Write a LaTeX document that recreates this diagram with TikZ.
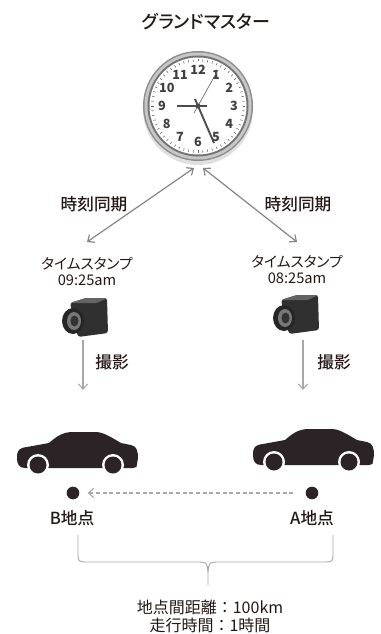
\documentclass[tikz,border=0pt]{standalone}
\usepackage{fontspec}
\setmainfont{Noto Sans CJK JP}[RawFeature=+palt]
\newfontfamily\medfont{Noto Sans CJK JP Medium}[RawFeature=+palt]
\newfontfamily\widefont{Noto Sans CJK JP}
\usepackage{tikz}
\usetikzlibrary{arrows.meta,positioning}
\usepackage{xcolor}
\definecolor{inkblack}{HTML}{231815}
\definecolor{linegray}{HTML}{858585}
\definecolor{lightgray}{HTML}{A8A8A8}
\definecolor{carblack}{HTML}{2B2325}
\definecolor{bezelgray}{HTML}{8E8E8E}
\definecolor{camgray}{HTML}{303030}
\tikzstyle{title} = [text=inkblack, font=\medfont\fontsize{13.5}{15}\selectfont]
\tikzstyle{label} = [text=inkblack, font=\medfont\fontsize{12.5}{14}\selectfont]
\tikzstyle{stamp} = [text=inkblack, align=center, inner sep=0pt, font=\fontsize{11}{12}\selectfont]
\tikzstyle{note} = [text=inkblack, align=center, inner sep=0pt, font=\widefont\fontsize{12}{13.5}\selectfont]
\tikzstyle{dot} = [circle, fill=carblack, minimum size=9.5pt, inner sep=0pt]
\tikzstyle{sync} = [line width=0.9pt, color=linegray, {Straight Barb[length=4pt,width=7pt]}-{Straight Barb[length=4pt,width=7pt]}]
\tikzstyle{shot} = [line width=0.8pt, color=lightgray, -{Straight Barb[length=4pt,width=7pt]}]
\tikzstyle{route} = [line width=0.8pt, color=lightgray, dash pattern=on 3pt off 2pt, -{Straight Barb[length=4pt,width=7pt]}]

\tikzset{
  car/.pic={
    \fill[carblack] (0,26) .. controls (0,18) and (2,16) .. (10,15) -- (32,11)
      .. controls (40,4) and (46,0) .. (56,0) -- (78,0) .. controls (86,0) and (92,4) .. (104,11)
      -- (114,13) .. controls (120,14) and (121,20) .. (121,26)
      -- (120,32) .. controls (120,35) .. (116,36) -- (8,36)
      .. controls (2,36) and (0,32) .. cycle;
    \foreach \wx in {21,96} {
      \fill[white] (\wx,33) circle (11);
      \fill[carblack] (\wx,33) circle (8.5);
    }
  },
  camera/.pic={
    % body and top face
    \fill[camgray, rounded corners=2pt] (-3,-18) -- (13,-23) -- (34,-23) -- (35,12) -- (5,16) -- cycle;
    \fill[camgray!75!white, rounded corners=1pt] (-3,-18) -- (13,-23) -- (34,-23) -- (24,-18) -- cycle;
    % lens
    \fill[black!85] (0,0) ellipse (11 and 13);
    \fill[camgray!65!white] (1,0) ellipse (7 and 9);
    \fill[black!80] (1.5,0) ellipse (4 and 5.5);
  }
}

\begin{document}
\begin{tikzpicture}[x=0.75pt, y=-0.75pt]
\useasboundingbox (0,0) rectangle (381,634);

% Grandmaster clock
\node[title] (gmtitle) at (206,22) {グランドマスター};
\begin{scope}[shift={(198,106)}]
  \fill[black!12] (0,4) circle (55);
  \fill[bezelgray] (0,0) circle (55);
  \fill[black!22] (0,0) circle (53.5);
  \fill[black!55] (0,0) circle (50.5);
  \fill[white] (0,0) circle (48.5);
  \foreach \m in {0,...,59}
    \draw[black!60, line width=0.4pt] ({44.5*sin(6*\m)},{-44.5*cos(6*\m)}) -- ({47*sin(6*\m)},{-47*cos(6*\m)});
  \foreach \n in {1,...,12}
    \node[text=black!75, inner sep=0pt, font=\bfseries\fontsize{9.5}{9.5}\selectfont] (num\n) at ({36*sin(30*\n)},{-36*cos(30*\n)}) {\n};
  % hands
  \draw[black!70, line width=1.6pt] (-21,0) -- (9,0);
  \draw[black!70, line width=1.4pt] (-3,-7) -- (16,37);
  \draw[black!60, line width=0.5pt] (-4,7) -- (20,-36);
  \fill[black!70] (0,0) circle (2.5);
\end{scope}
\coordinate (gmL) at (194,168);
\coordinate (gmR) at (203,168);

% Camera B side
\node[label] (syncL) at (94,204) {時刻同期};
\node[stamp] (stampL) at (87,272) {タイムスタンプ\\09:25am};
\coordinate (stampLtop) at (87,242);
\draw[sync] (gmL) -- (stampLtop);
\pic at (73,321) {camera};
\coordinate (camLbot) at (83,340);
\coordinate (carLtop) at (83,390);
\draw[shot] (camLbot) -- (carLtop);
\node[label] (shotL) at (112,362) {撮影};

% Camera A side
\node[label] (syncR) at (298,204) {時刻同期};
\node[stamp] (stampR) at (297,270) {タイムスタンプ\\08:25am};
\coordinate (stampRtop) at (297,242);
\draw[sync] (gmR) -- (stampRtop);
\pic at (284,318) {camera};
\coordinate (camRbot) at (303,340);
\coordinate (carRtop) at (303,390);
\draw[shot] (camRbot) -- (carRtop);
\node[label] (shotR) at (334,362) {撮影};

% Cars and points
\pic at (17,432) {car};
\pic at (253,429) {car};
\node[dot] (ptB) at (73,493) {};
\node[dot] (ptA) at (312,493) {};
\draw[route, shorten >=6pt, shorten <=9pt] (ptA) -- (ptB);
\node[label] (nameB) at (72,518) {B地点};
\node[label] (nameA) at (312,518) {A地点};

% Brace and distance
\draw[lightgray, line width=0.7pt] (78,535) -- (78,552) .. controls (78,562) .. (88,562) -- (197,562)
  .. controls (207,562) .. (208,572) -- (208,585);
\draw[lightgray, line width=0.7pt] (333,535) -- (333,552) .. controls (333,562) .. (323,562) -- (219,562)
  .. controls (209,562) .. (208,572);
\node[note] (distance) at (210,616) {地点間距離：100km\\走行時間：1時間};
\end{tikzpicture}
\end{document}
